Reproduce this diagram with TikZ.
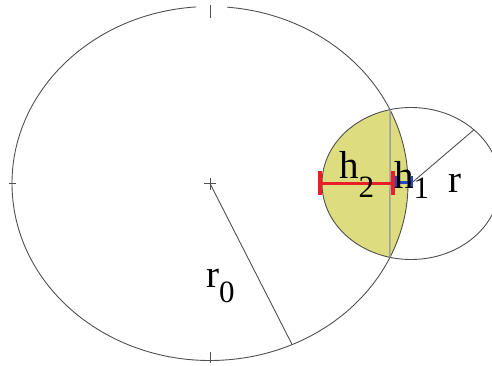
\documentclass[tikz,border=0pt]{standalone}
\usepackage{fontspec}
\setmainfont{Liberation Serif}
\usetikzlibrary{intersections,calc}
\definecolor{lensyellow}{RGB}{221,221,128}
\definecolor{linegray}{RGB}{80,80,80}
\definecolor{chordgray}{RGB}{160,160,160}
\definecolor{segred}{RGB}{232,30,40}
\definecolor{segblue}{RGB}{40,70,200}
\tikzset{
  outline/.style={draw=linegray,line width=0.9pt},
  tickmark/.style={draw=linegray,line width=1pt},
  lbl/.style={inner sep=0pt,anchor=base west,font=\fontsize{39}{39}\selectfont},
}
\newcommand{\subtxt}[2]{\raisebox{#1}{\fontsize{31}{31}\selectfont #2}}
\begin{document}
\begin{tikzpicture}[x=1pt,y=1pt]
\useasboundingbox (0,0) rectangle (492,365);
\clip (0,0) rectangle (492,365);
\coordinate (C0) at (210,181.5);
\coordinate (C1) at (411,181.5);
% lens fill
\begin{scope}
  \clip (C0) ellipse [x radius=198pt,y radius=177pt];
  \fill[lensyellow] (C1) ellipse [x radius=89pt,y radius=76pt];
\end{scope}
% big ellipse with small gap at top
\path[name path=big] (C0) ellipse [x radius=198pt,y radius=177pt];
\draw[outline] (C0) ++(94:198pt and 177pt) arc[start angle=94,end angle=445,x radius=198pt,y radius=177pt];
% small ellipse
\draw[outline,name path=small] (C1) ellipse [x radius=89pt,y radius=76pt];
% chord
\path[name intersections={of=big and small,by={I1,I2}}];
\draw[chordgray,line width=1.5pt] (I1) -- (I2);
% ticks and centre cross
\draw[tickmark] (210,360) -- (210,347);
\draw[tickmark] (210,13) -- (210,2);
\draw[tickmark] (9,181.5) -- (16,181.5);
\draw[tickmark] ($(C0)+(-6,0)$) -- ($(C0)+(6,0)$) ($(C0)+(0,-6)$) -- ($(C0)+(0,6)$);
% radii
\coordinate (R0) at ($(C0)+(-65.5:198pt and 177pt)$);
\draw[outline] (C0) -- (R0);
\coordinate (R1) at ($(C1)+(45:89pt and 76pt)$);
\draw[outline] (C1) -- (R1);
% h2 (red) and h1 (blue) segments
\coordinate (A) at (320,182);
\coordinate (B) at (393,182);
\coordinate (D) at (412,183);
\draw[segred,line width=3pt] (A) -- (B);
\draw[segred,line width=3.5pt] ($(A)+(0,12)$) -- ($(A)+(0,-12)$);
\draw[segred,line width=3.5pt] ($(B)+(0,12)$) -- ($(B)+(0,-12)$);
\draw[segblue,line width=3pt] ($(B)+(3,1)$) -- (D);
\draw[segblue,line width=2.5pt] ($(B)+(3,7)$) -- ($(B)+(3,-5)$);
\draw[segblue,line width=2.5pt] ($(D)+(0,6)$) -- ($(D)+(0,-6)$);
% labels
\node[lbl] (h2) at (339,187) {h\subtxt{-19pt}{2}};
\node[lbl] (h1) at (394,177) {h\subtxt{-10pt}{1}};
\node[lbl] (r) at (448,173) {r};
\node[lbl] (r0) at (206,78) {r\subtxt{-15pt}{0}};
\end{tikzpicture}
\end{document}
